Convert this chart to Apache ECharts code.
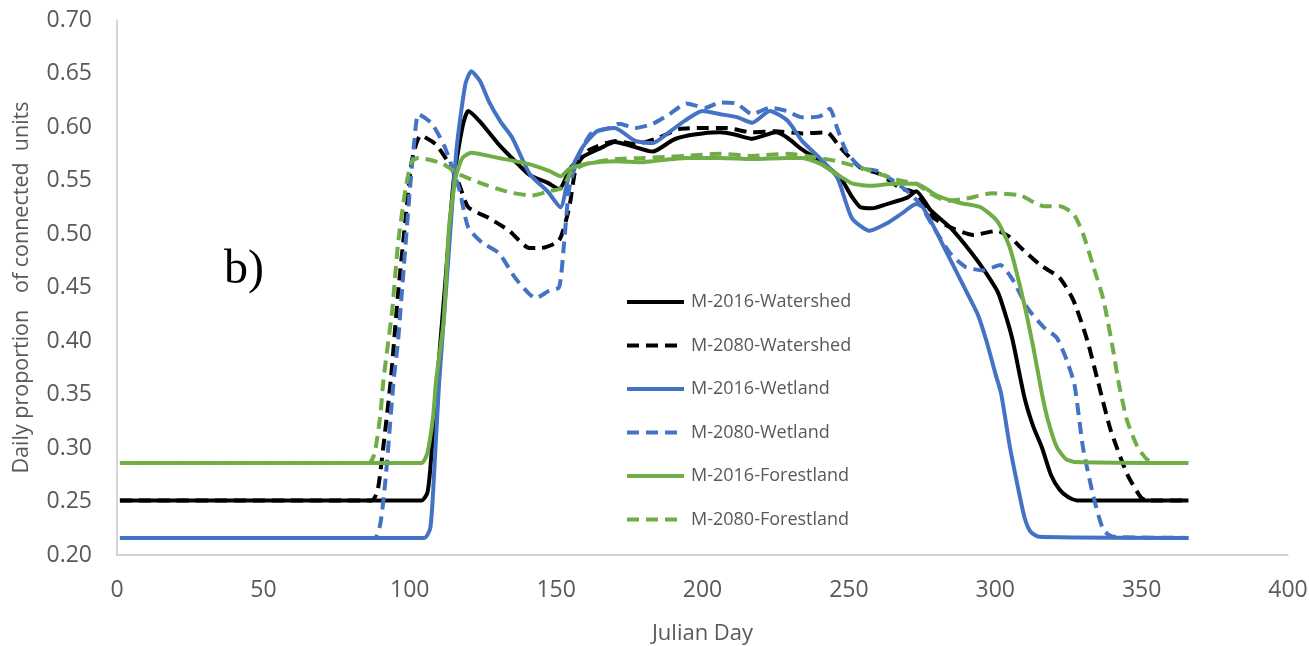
<!DOCTYPE html>
<html>
<head>
<meta charset="utf-8">
<script src="https://cdn.jsdelivr.net/npm/echarts@6/dist/echarts.min.js"></script>
<style>
  html, body { margin: 0; padding: 0; background: #fff; }
  #graph { width: 1309px; height: 646px; }
</style>
</head>
<body>
<div id="graph"></div>
<script>
// values as [julian day, proportion]
var watershed2016 = [[1,0.251],[104,0.251],[106,0.258],[107,0.28],[109,0.35],[112,0.45],[115,0.55],[118,0.60],[120,0.615],[124,0.605],[130,0.585],[136,0.568],[141,0.555],[147,0.548],[151,0.542],[155,0.562],[159,0.572],[165,0.580],[170,0.586],[176,0.582],[183,0.577],[190,0.588],[195,0.592],[200,0.594],[206,0.595],[211,0.593],[217,0.589],[221,0.592],[225,0.595],[229,0.590],[233,0.581],[240,0.568],[247,0.553],[251,0.535],[254,0.525],[258,0.524],[263,0.528],[270,0.534],[273,0.540],[278,0.522],[285,0.505],[292,0.482],[297,0.463],[301,0.445],[304,0.42],[306,0.40],[310,0.347],[313,0.32],[316,0.30],[319,0.275],[322,0.261],[325,0.254],[328,0.251],[366,0.251]];
var watershed2080 = [[1,0.251],[87,0.251],[89,0.26],[90.5,0.29],[93.5,0.363],[96,0.444],[98.5,0.512],[100.7,0.568],[103.7,0.592],[108.8,0.584],[113.4,0.566],[116.8,0.547],[120,0.525],[127,0.515],[134,0.503],[140.8,0.487],[145,0.487],[151,0.494],[154.5,0.525],[156.8,0.562],[161,0.578],[170.5,0.587],[177,0.584],[185,0.590],[192,0.598],[200,0.599],[208,0.599],[217,0.595],[225,0.596],[234,0.594],[242.5,0.595],[247,0.581],[254,0.562],[260.6,0.556],[267.5,0.543],[273,0.538],[279,0.515],[285.7,0.505],[292.5,0.499],[300.7,0.503],[305,0.497],[309.6,0.485],[315.4,0.471],[322,0.459],[326.7,0.438],[331.5,0.40],[335,0.363],[339.4,0.317],[345,0.276],[349.7,0.254],[352,0.251],[366,0.251]];
var wetland2016 = [[1,0.216],[105,0.216],[107,0.225],[108,0.26],[110,0.36],[113,0.47],[116,0.58],[119,0.64],[121,0.652],[124,0.643],[127,0.624],[131,0.605],[135,0.590],[141,0.556],[147,0.540],[151.5,0.525],[154.5,0.556],[159,0.581],[164,0.596],[170,0.599],[177,0.587],[183,0.585],[189,0.596],[194,0.606],[200,0.615],[206,0.612],[212,0.609],[217,0.604],[223,0.615],[229,0.606],[234,0.587],[240,0.571],[246,0.553],[251,0.515],[257,0.503],[263,0.510],[268,0.519],[273,0.528],[275,0.526],[278,0.512],[283,0.485],[290,0.447],[294,0.425],[297,0.40],[300,0.37],[302,0.351],[305,0.301],[308,0.26],[310,0.235],[312,0.222],[315,0.217],[366,0.216]];
var wetland2080 = [[1,0.216],[88,0.216],[90,0.23],[91.7,0.27],[94.5,0.363],[96,0.40],[98,0.47],[100,0.54],[101.5,0.585],[103,0.612],[107.6,0.603],[112,0.581],[116.8,0.543],[120,0.506],[124.7,0.492],[130.5,0.482],[136,0.459],[140.8,0.444],[143,0.440],[147.6,0.447],[151,0.45],[152.7,0.491],[154.5,0.543],[158,0.575],[162,0.594],[168,0.599],[171.6,0.603],[177,0.599],[183,0.603],[188.7,0.612],[194.5,0.622],[201,0.618],[206,0.623],[211.6,0.622],[217,0.612],[223,0.618],[228.7,0.615],[234,0.609],[240,0.610],[243.5,0.617],[246,0.599],[249,0.578],[254,0.562],[259.6,0.559],[265,0.550],[270,0.540],[274,0.529],[279,0.506],[284.6,0.482],[290,0.469],[296,0.466],[301.7,0.471],[306,0.457],[311,0.431],[316.5,0.413],[321,0.403],[324,0.385],[327,0.36],[330,0.30],[333.6,0.254],[337,0.223],[340.5,0.217],[366,0.216]];
var forest2016 = [[1,0.286],[104,0.286],[106,0.295],[108,0.33],[109,0.363],[111.6,0.419],[113.4,0.506],[115.7,0.553],[118,0.571],[121,0.576],[130.5,0.571],[139.7,0.566],[147.6,0.559],[151.6,0.554],[154.5,0.561],[161,0.566],[170.5,0.568],[179.5,0.567],[183,0.568],[194.5,0.571],[206,0.571],[217,0.570],[228.7,0.571],[234,0.571],[240,0.566],[245.8,0.556],[251.4,0.547],[258,0.545],[265,0.547],[273,0.547],[280,0.536],[288,0.529],[295,0.525],[300.7,0.512],[305,0.487],[309.6,0.438],[313,0.394],[316,0.35],[318,0.326],[321,0.301],[324,0.29],[327,0.287],[366,0.286]];
var forest2080 = [[1,0.286],[86,0.286],[88,0.295],[90,0.332],[91,0.363],[94,0.429],[96,0.491],[98.6,0.543],[100.7,0.568],[103,0.571],[111,0.566],[116.8,0.556],[124.7,0.547],[134,0.539],[141.8,0.536],[147.6,0.540],[152,0.543],[155.5,0.559],[161,0.566],[170.5,0.570],[179.5,0.571],[187,0.572],[194.5,0.573],[206,0.575],[217,0.573],[228.7,0.575],[235.6,0.573],[240,0.571],[246,0.568],[254,0.562],[260.6,0.556],[267.5,0.550],[273,0.547],[277.7,0.538],[283.5,0.531],[290,0.533],[299,0.538],[308.6,0.536],[316.5,0.526],[322,0.526],[326.7,0.519],[330,0.500],[333.6,0.469],[337,0.438],[340.5,0.388],[342,0.363],[345,0.326],[348.6,0.301],[352,0.289],[355,0.286],[366,0.286]];

var seriesNames = ['M-2016-Watershed', 'M-2080-Watershed', 'M-2016-Wetland', 'M-2080-Wetland', 'M-2016-Forestland', 'M-2080-Forestland'];
var seriesData = [watershed2016, watershed2080, wetland2016, wetland2080, forest2016, forest2080];
var xTicks = { min: 0, max: 400, step: 50 };
var yTicks = { min: 0.20, max: 0.70, step: 0.05 };

var colors = ['#000000', '#000000', '#4472C4', '#4472C4', '#70AD47', '#70AD47'];
var grey = '#595959';
var font = "'Open Sans', 'Noto Sans', sans-serif";

var myChart = echarts.init(document.getElementById('graph'));

var series = seriesNames.map(function (name, i) {
    return {
        name: name,
        type: 'line',
        data: seriesData[i],
        showSymbol: false,
        symbol: 'none',
        smooth: 0.2,
        lineStyle: {
            color: colors[i],
            width: 4,
            type: i % 2 === 1 ? [12, 7] : 'solid'
        },
        itemStyle: { color: colors[i] }
    };
});

var option = {
    animation: false,
    backgroundColor: '#ffffff',
    grid: { left: 117, right: 21, top: 20, bottom: 91, outerBoundsMode: 'none' },
    legend: {
        orient: 'vertical',
        left: 620,
        top: 288,
        itemWidth: 57,
        itemHeight: 14,
        itemGap: 25.5,
        itemStyle: { opacity: 0, borderWidth: 0 },
        lineStyle: { width: 4 },
        textStyle: { color: grey, fontSize: 18, fontFamily: font, padding: [0, 0, 0, 2] },
        data: seriesNames
    },
    xAxis: {
        type: 'value',
        min: xTicks.min,
        max: xTicks.max,
        interval: xTicks.step,
        name: 'Julian Day',
        nameLocation: 'middle',
        nameGap: 68,
        nameTextStyle: { color: grey, fontSize: 22, fontFamily: font },
        axisLine: { show: true, lineStyle: { color: '#c8c8c8', width: 1.5 } },
        axisTick: { show: false },
        splitLine: { show: false },
        axisLabel: { color: grey, fontSize: 23, fontFamily: font, margin: 24 }
    },
    yAxis: {
        type: 'value',
        min: yTicks.min,
        max: yTicks.max,
        interval: yTicks.step,
        name: 'Daily proportion   of connected  units',
        nameLocation: 'middle',
        nameGap: 84,
        nameTextStyle: { color: grey, fontSize: 21.5, fontFamily: font },
        axisLine: { show: true, lineStyle: { color: '#c8c8c8', width: 1.5 } },
        axisTick: { show: false },
        splitLine: { show: false },
        axisLabel: {
            color: grey, fontSize: 23, fontFamily: font, margin: 25,
            formatter: function (v) { return v.toFixed(2); }
        }
    },
    graphic: [{
        type: 'text',
        left: 224,
        top: 246,
        style: {
            text: 'b)',
            fontSize: 48,
            fontFamily: "'Liberation Serif', 'DejaVu Serif', serif",
            fill: '#000000'
        }
    }],
    series: series
};

myChart.setOption(option);
</script>
</body>
</html>
